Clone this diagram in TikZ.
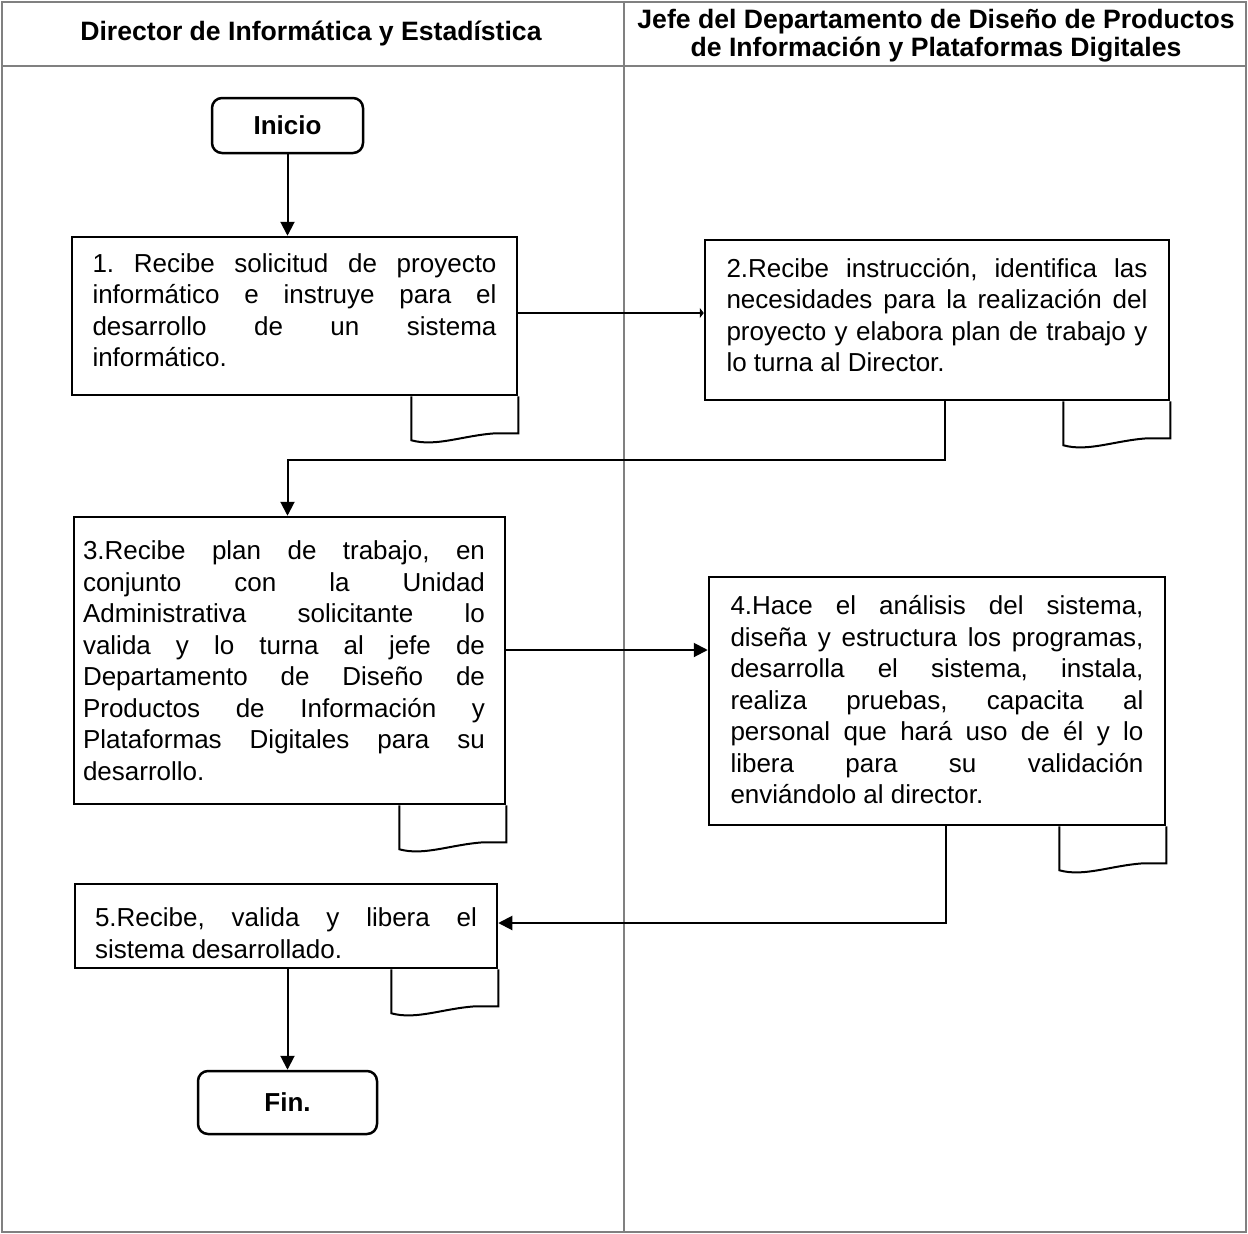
\documentclass[tikz,border=0pt]{standalone}
\usepackage{fontspec}
\setmainfont{Liberation Sans}
\usetikzlibrary{arrows.meta,calc}
\hyphenpenalty=10000
\exhyphenpenalty=10000
\tolerance=9999
\emergencystretch=20pt
\frenchspacing
\definecolor{lanegray}{RGB}{128,128,128}

% document-shaped tab hanging under the lower right corner of a box
\newcommand\doctab[1]{%
  \draw[tabline] ($(#1.south east)+(-107pt,0pt)$) -- ($(#1.south east)+(-107pt,-44pt)$)
    .. controls ($(#1.south east)+(-82pt,-51pt)$) and ($(#1.south east)+(-55pt,-39pt)$)
    .. ($(#1.south east)+(-22pt,-37pt)$) -- ($(#1.south east)+(0pt,-37pt)$) -- (#1.south east);}

\begin{document}
\begin{tikzpicture}[x=1pt,y=-1pt,
  lane/.style={draw=lanegray,line width=2pt},
  head/.style={font=\fontsize{26.6}{28}\selectfont\bfseries,align=center,inner sep=0pt},
  term/.style={draw,line width=2.5pt,rounded corners=10pt,inner sep=0pt,
    font=\fontsize{26}{31}\selectfont\bfseries},
  stepbox/.style={draw,line width=2.5pt,inner sep=0pt},
  steptext/.style={inner sep=0pt,align=justify,font=\fontsize{26}{31.5}\selectfont},
  tabline/.style={line width=2pt},
  flow/.style={line width=2pt,-{Triangle[length=14pt,width=14pt]}},
  flowsmall/.style={line width=2pt,-{Triangle[length=4pt,width=10pt]}}]
\useasboundingbox (0,0) rectangle (1248,1234);

% swimlane frame
\draw[lane] (2,2) rectangle (1246,1232);
\draw[lane] (2,66) -- (1246,66);
\draw[lane,line width=1.5pt] (624,2) -- (624,1232);
\node[head] (h1) at (311,34) {Director de Informática y Estadística};
\node[head] (h2) at (936,36) {Jefe del Departamento de Diseño de Productos\\de Información y Plataformas Digitales};

% terminals
\node[term,minimum width=151pt,minimum height=55pt] (ini) at (287.5,125.5) {Inicio};
\node[term,minimum width=179pt,minimum height=63pt] (fin) at (287.5,1102.5) {Fin.};

% process steps: frames
\node[stepbox,minimum width=445pt,minimum height=158pt] (b1) at (294.5,316) {};
\node[stepbox,minimum width=464pt,minimum height=160pt] (b2) at (937,320) {};
\node[stepbox,minimum width=431pt,minimum height=287pt] (b3) at (289.5,660.5) {};
\node[stepbox,minimum width=456pt,minimum height=248pt] (b4) at (937,701) {};
\node[stepbox,minimum width=422pt,minimum height=84pt] (b5) at (286,926) {};

% process steps: texts
\node[steptext,text width=404pt] (t1) at ([yshift=6pt]b1.center)
  {1. Recibe solicitud de proyecto\linebreak informático e instruye para el\linebreak desarrollo de un sistema\linebreak informático.};
\node[steptext,text width=421pt] (t2) at ([yshift=5pt]b2.center)
  {2.Recibe instrucción, identifica las\linebreak necesidades para la realización del\linebreak proyecto y elabora plan de trabajo y\linebreak lo turna al Director.};
\node[steptext,text width=402pt] (t3) at ([xshift=-5.5pt]b3.center)
  {3.Recibe plan de trabajo, en\linebreak conjunto con la Unidad\linebreak Administrativa solicitante lo\linebreak valida y lo turna al jefe de\linebreak Departamento de Diseño de\linebreak Productos de Información y\linebreak Plataformas Digitales para su\linebreak desarrollo.};
\node[steptext,text width=413pt] (t4) at ([yshift=1pt]b4.center)
  {4.Hace el análisis del sistema,\linebreak diseña y estructura los programas,\linebreak desarrolla el sistema, instala,\linebreak realiza pruebas, capacita al\linebreak personal que hará uso de él y lo\linebreak libera para su validación\linebreak enviándolo al director.};
\node[steptext,text width=382pt] (t5) at ([yshift=-7pt]b5.center)
  {5.Recibe, valida y libera el\linebreak sistema desarrollado.};

\doctab{b1}
\doctab{b2}
\doctab{b3}
\doctab{b4}
\doctab{b5}

% connectors
\draw[flow] (ini.south) -- (ini.south |- b1.north);
\draw[flowsmall] ([yshift=3pt]b1.east) -- ([yshift=3pt]b1.east -| b2.west);
\draw[flow] ([xshift=8pt]b2.south) |- ([yshift=56pt]b3.north -| ini.south) -- (b3.north -| ini.south);
\draw[flow] ([yshift=10.5pt]b3.east) -- ([yshift=10.5pt]b3.east -| b4.west);
\draw[flow] ([xshift=9pt]b4.south) |- ([yshift=3pt]b5.east);
\draw[flow] (fin.north |- b5.south) -- (fin.north);
\end{tikzpicture}
\end{document}
